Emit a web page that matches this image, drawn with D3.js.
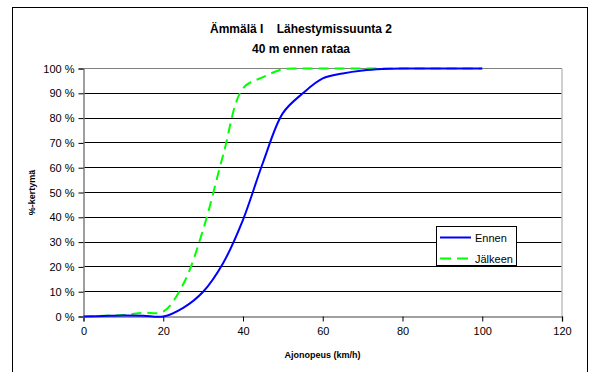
<!DOCTYPE html>
<html>
<head>
<meta charset="utf-8">
<script src="https://cdn.jsdelivr.net/npm/d3@7"></script>
<style>
  body { margin: 0; background: #fff; }
  text { font-family: "Liberation Sans", Arial, sans-serif; fill: #000; }
</style>
</head>
<body>
<div class="chart"></div>
<script>
// Cumulative speed distribution, before / after
var speeds = [0, 5, 10, 15, 20, 25, 30, 35, 40, 45, 50, 55, 60, 65, 70, 75, 80, 85, 90, 95, 100];
var ennen = [0, 0.2, 0.4, 0.3, 0, 3.5, 10, 21.5, 39, 62, 82, 90, 96, 98, 99.2, 99.8, 100, 100, 100, 100, 100];
var jalkeen = [0, 0.3, 0.6, 1.5, 2, 13, 35, 65, 92, 96.5, 99.7, 100, 100, 100, 100, 100, 100, 100, 100, 100, 100];
var xTicks = [0, 20, 40, 60, 80, 100, 120];
var yTicks = [0, 10, 20, 30, 40, 50, 60, 70, 80, 90, 100];

var svgWidth = 596;
var svgHeight = 372;
var margin = { top: 68.5, right: 34, bottom: 55.5, left: 83.5 };
var width = svgWidth - margin.left - margin.right;
var height = svgHeight - margin.top - margin.bottom;

var svg = d3.select(".chart")
    .append("svg")
    .attr("width", svgWidth)
    .attr("height", svgHeight);

// outer frame
svg.append("rect")
    .attr("x", 12.5).attr("y", 7.5)
    .attr("width", 575).attr("height", 380)
    .attr("fill", "#fff").attr("stroke", "#000");

// title
svg.append("text")
    .attr("x", 301).attr("y", 32.5)
    .attr("text-anchor", "middle")
    .style("font-size", "12px").style("font-weight", "bold")
    .style("white-space", "pre")
    .text("Ämmälä I    Lähestymissuunta 2");
svg.append("text")
    .attr("x", 301).attr("y", 52.5)
    .attr("text-anchor", "middle")
    .style("font-size", "12px").style("font-weight", "bold")
    .text("40 m ennen rataa");

var chart = svg.append("g")
    .attr("transform", "translate(" + margin.left + "," + margin.top + ")");

var x = d3.scaleLinear().domain([0, 120]).range([0, width]);
var y = d3.scaleLinear().domain([0, 100]).range([height, 0]);

// gridlines
chart.selectAll(".grid")
    .data(yTicks.filter(function(d) { return d > 0 && d < 100; }))
    .enter()
    .append("line")
    .attr("x1", 0).attr("x2", width)
    .attr("y1", function(d) { return Math.round(y(d)); })
    .attr("y2", function(d) { return Math.round(y(d)); })
    .attr("stroke", "#000").attr("stroke-width", 1);

// plot border top/right
chart.append("line")
    .attr("x1", 0).attr("x2", width).attr("y1", 0).attr("y2", 0)
    .attr("stroke", "#808080");
chart.append("line")
    .attr("x1", width).attr("x2", width).attr("y1", 0).attr("y2", height)
    .attr("stroke", "#c0c0c0").attr("stroke-width", 1.5);

var bottomAxis = d3.axisBottom(x).tickValues(xTicks).tickSize(5).tickPadding(6);
var leftAxis = d3.axisLeft(y).tickValues(yTicks).tickSize(5).tickPadding(4)
    .tickFormat(function(d) { return d + " %"; });

var gx = chart.append("g")
    .attr("transform", "translate(0," + height + ")")
    .call(bottomAxis);
var gy = chart.append("g").call(leftAxis);

[gx, gy].forEach(function(g) {
    g.select(".domain").attr("stroke", "#808080").attr("stroke-width", 1.5);
    g.selectAll(".tick line").attr("stroke", "#000");
    g.selectAll(".tick text")
        .style("font-size", "11px")
        .style("font-family", "'Liberation Sans', Arial, sans-serif")
        .attr("fill", "#000");
});

// axis titles
chart.append("text")
    .attr("x", 239).attr("y", height + 41.5)
    .attr("text-anchor", "middle")
    .style("font-size", "9px").style("font-weight", "bold")
    .text("Ajonopeus (km/h)");
chart.append("text")
    .attr("transform", "rotate(-90)")
    .attr("x", -(192.5 - margin.top)).attr("y", 35 - margin.left)
    .attr("text-anchor", "middle")
    .style("font-size", "9px").style("font-weight", "bold")
    .text("%-kertymä");

// smoothed lines
var line = d3.line()
    .x(function(d) { return x(d[0]); })
    .y(function(d) { return y(d[1]); })
    .curve(d3.curveCatmullRom);

chart.append("path")
    .datum(d3.zip(speeds, jalkeen))
    .attr("fill", "none")
    .attr("stroke", "#00ff00")
    .attr("stroke-width", 2)
    .attr("stroke-dasharray", "10,6")
    .attr("d", line);

chart.append("path")
    .datum(d3.zip(speeds, ennen))
    .attr("fill", "none")
    .attr("stroke", "#0000ff")
    .attr("stroke-width", 2)
    .attr("d", line);

// legend
var legend = svg.append("g");
legend.append("rect")
    .attr("x", 436.5).attr("y", 226.5)
    .attr("width", 80).attr("height", 39)
    .attr("fill", "#fff").attr("stroke", "#000");
var legendItems = [
    { name: "Ennen", color: "#0000ff", dash: null },
    { name: "Jälkeen", color: "#00ff00", dash: "11,6" }
];
legendItems.forEach(function(item, i) {
    var cy = 237.5 + i * 21;
    legend.append("line")
        .attr("x1", 440).attr("x2", 471)
        .attr("y1", cy).attr("y2", cy)
        .attr("stroke", item.color).attr("stroke-width", 2)
        .attr("stroke-dasharray", item.dash);
    legend.append("text")
        .attr("x", 475).attr("y", cy + 4)
        .style("font-size", "11px")
        .text(item.name);
});
</script>
</body>
</html>
